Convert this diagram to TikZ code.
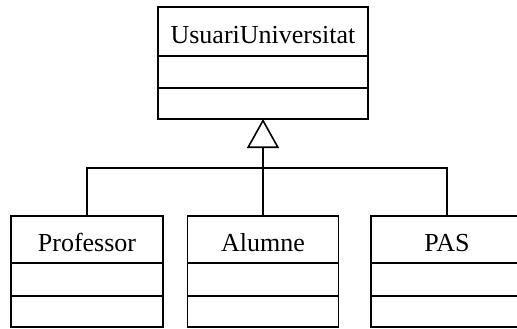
\documentclass[tikz,border=0pt]{standalone}
\usepackage{fontspec}
\setmainfont{Liberation Serif}
\usetikzlibrary{arrows.meta, positioning}

\begin{document}
\begin{tikzpicture}[x=1pt, y=-1pt, line width=1.6pt,
	every node/.style={draw, inner sep=0pt, outer sep=0pt, font=\fontsize{26}{30}\selectfont},
	title/.style={minimum height=47pt, text height=24pt, text depth=0pt},
	part/.style={minimum height=32pt},
	gen/.style={-{Triangle[open, width=32pt, length=29pt, line width=1.6pt]}}]

	\useasboundingbox (0,0) rectangle (517,329);

	% superclass
	\node [title, minimum width=210pt, minimum height=49pt] (U) at (263,31.5) {UsuariUniversitat};
	\node [part, minimum width=210pt, below=0pt of U] (Ua) {};
	\node [part, minimum width=210pt, minimum height=31pt, below=0pt of Ua] (Uo) {};

	% subclasses
	\node [title, minimum width=152pt] (P) at (87,239.5) {Professor};
	\node [part, minimum width=152pt, minimum height=33pt, below=0pt of P] (Pa) {};
	\node [part, minimum width=152pt, minimum height=31pt, below=0pt of Pa] (Po) {};

	\node [title, minimum width=151pt] (A) at (263,239.5) {Alumne};
	\node [part, minimum width=151pt, minimum height=33pt, below=0pt of A] (Aa) {};
	\node [part, minimum width=151pt, minimum height=31pt, below=0pt of Aa] (Ao) {};

	\node [title, minimum width=152pt] (S) at (447,239.5) {PAS};
	\node [part, minimum width=152pt, minimum height=33pt, below=0pt of S] (Sa) {};
	\node [part, minimum width=152pt, minimum height=31pt, below=0pt of Sa] (So) {};

	% generalization
	\draw [gen] (A.north) -- (Uo.south);
	\draw (P.north) -- ++(0,-48) -| (S.north);

\end{tikzpicture}
\end{document}
